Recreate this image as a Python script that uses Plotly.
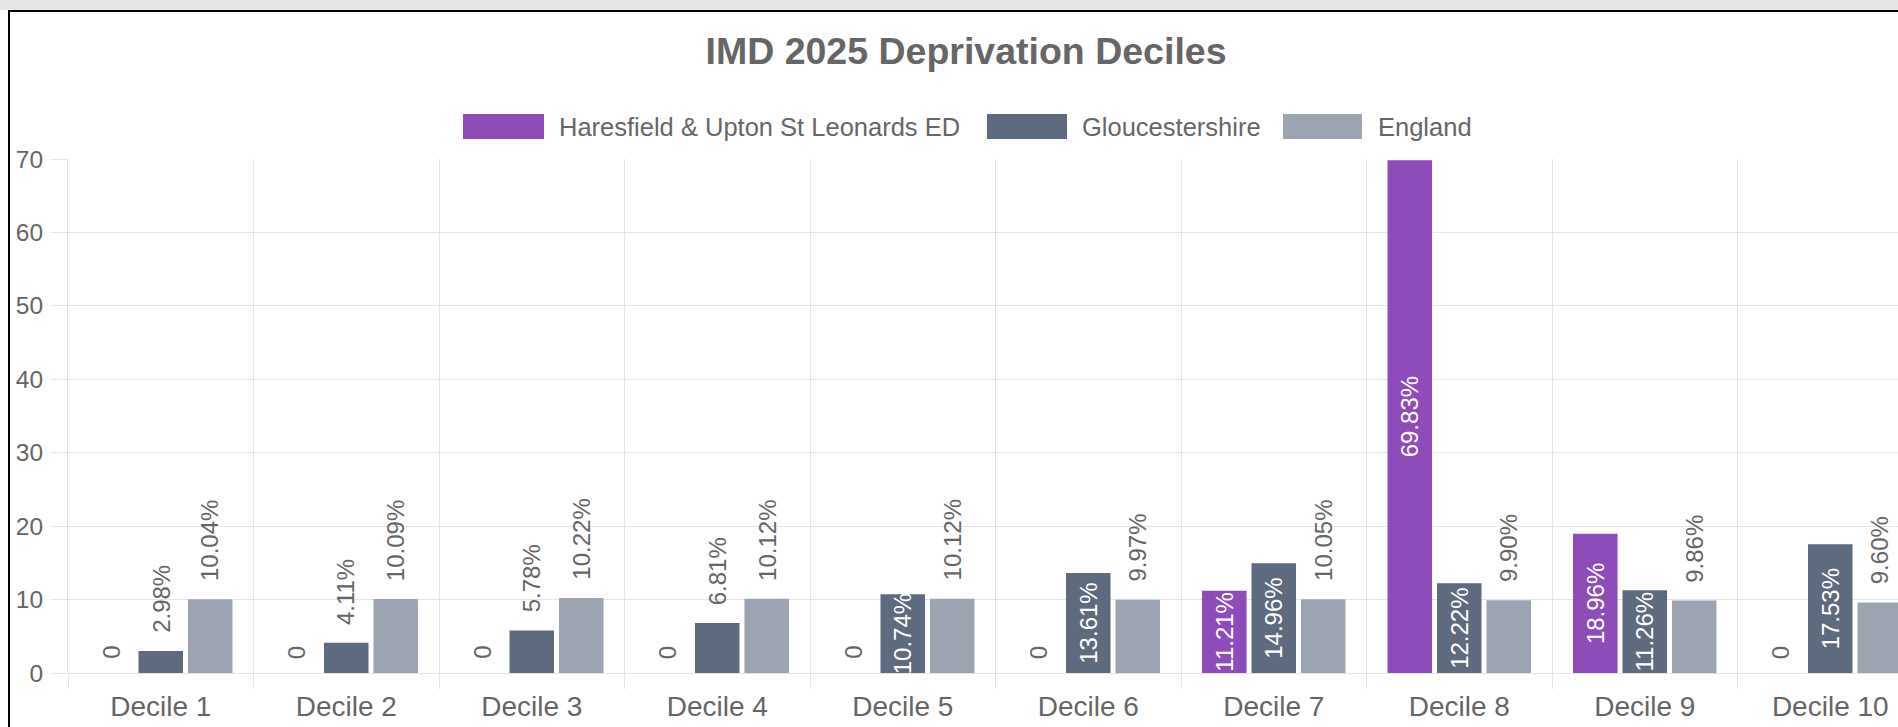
import plotly.graph_objects as go

# ---------------- data ----------------
categories = ["Decile 1", "Decile 2", "Decile 3", "Decile 4", "Decile 5",
              "Decile 6", "Decile 7", "Decile 8", "Decile 9", "Decile 10"]
series_names = ["Haresfield & Upton St Leonards ED", "Gloucestershire", "England"]
haresfield = [0, 0, 0, 0, 0, 0, 11.21, 69.83, 18.96, 0]
gloucestershire = [2.98, 4.11, 5.78, 6.81, 10.74, 13.61, 14.96, 12.22, 11.26, 17.53]
england = [10.04, 10.09, 10.22, 10.12, 10.12, 9.97, 10.05, 9.90, 9.86, 9.60]
y_ticks = [0, 10, 20, 30, 40, 50, 60, 70]
title_text = "IMD 2025 Deprivation Deciles"

series_values = [haresfield, gloucestershire, england]
colors = ["#8e4cbb", "#5e6a7d", "#9da4b1"]

# ---------------- geometry / style ----------------
W, H = 1898, 727
L, R, T, B = 68, 0, 159, 54
plot_w = W - L - R
plot_h = H - T - B
cat_px = 185.5
slot_px = cat_px * 0.8 / 3
FONT = "Arial, 'Liberation Sans', Helvetica, sans-serif"
GREY = "#666666"
GRID = "#e5e5e5"
INSIDE_MIN = 10.5


def px2x(px):
    return (px - L) / plot_w


def py2y(py):
    return (H - B - py) / plot_h


def fmt(v):
    return "0" if v == 0 else f"{v:.2f}%"


fig = go.Figure()
annotations = []
for j, (name, vals, col) in enumerate(zip(series_names, series_values, colors)):
    inside_text = [fmt(v) if v >= INSIDE_MIN else "" for v in vals]
    fig.add_trace(go.Bar(
        name=name, x=categories, y=vals, marker=dict(color=col, line=dict(width=0)),
        text=inside_text, textposition="inside", insidetextanchor="middle",
        textangle=-90, constraintext="none", cliponaxis=True,
        textfont=dict(color="white", size=24, family=FONT),
        showlegend=False,
    ))
    for c, v in zip(categories, vals):
        if v < INSIDE_MIN:
            annotations.append(dict(
                x=c, y=v, xref="x", yref="y", text=fmt(v), showarrow=False,
                textangle=-90, xanchor="center", yanchor="bottom",
                xshift=(j - 1) * slot_px, yshift=16 if v > 0 else 12,
                font=dict(size=24, color=GREY, family=FONT),
            ))

# custom legend (Chart.js style wide boxes)
legend_box_x = [(463, 544), (987, 1067), (1283, 1362)]
legend_text_x = [557, 1080, 1376]
shapes = []
for (x0, x1), tx, name, col in zip(legend_box_x, legend_text_x, series_names, colors):
    shapes.append(dict(type="rect", xref="paper", yref="paper",
                       x0=px2x(x0), x1=px2x(x1), y0=py2y(139), y1=py2y(114),
                       fillcolor=col, line=dict(width=0)))
    annotations.append(dict(x=px2x(tx), y=py2y(126.5), xref="paper", yref="paper",
                            text=name, showarrow=False, xanchor="left", yanchor="middle",
                            font=dict(size=25.5, color=GREY, family=FONT)))

# page frame: grey band at top and black border
shapes.append(dict(type="rect", xref="paper", yref="paper",
                   x0=px2x(0), x1=px2x(W), y0=py2y(10), y1=py2y(0),
                   fillcolor="#e6e6e6", line=dict(width=0), layer="above"))
shapes.append(dict(type="line", xref="paper", yref="paper",
                   x0=px2x(8), x1=px2x(W), y0=py2y(11), y1=py2y(11),
                   line=dict(color="black", width=2), layer="above"))
shapes.append(dict(type="line", xref="paper", yref="paper",
                   x0=px2x(9), x1=px2x(9), y0=py2y(10), y1=py2y(H),
                   line=dict(color="black", width=2), layer="above"))

fig.update_layout(
    width=W, height=H,
    margin=dict(l=L, r=R, t=T, b=B, autoexpand=False),
    paper_bgcolor="white", plot_bgcolor="white",
    barmode="group", bargap=0.2, bargroupgap=0.1,
    title=dict(text=f"<b>{title_text}</b>", x=px2x(966), xref="paper", xanchor="center",
               y=1 - 51 / H, yref="container", yanchor="middle",
               font=dict(size=37.5, color=GREY, family=FONT)),
    annotations=annotations, shapes=shapes,
)
fig.update_xaxes(
    type="category", range=[-0.5, -0.5 + plot_w / cat_px],
    tickson="boundaries", showgrid=True, gridcolor=GRID, gridwidth=1,
    ticks="outside", ticklen=15, tickcolor=GRID, tickwidth=1,
    tickfont=dict(size=28, color=GREY, family=FONT), ticklabelstandoff=14,
    showline=False, zeroline=False, automargin=False, fixedrange=True,
)
fig.update_yaxes(
    range=[0, 70], tickvals=y_ticks, showgrid=True, gridcolor=GRID, gridwidth=1,
    ticks="outside", ticklen=16, tickcolor=GRID, tickwidth=1,
    tickfont=dict(size=24.5, color=GREY, family=FONT), ticklabelstandoff=3,
    showline=True, linecolor=GRID, linewidth=1,
    zeroline=True, zerolinecolor=GRID, zerolinewidth=1, automargin=False, fixedrange=True,
)

fig.write_html(
    "out.html",
    config={"displayModeBar": False},
    post_script="document.body.style.margin='0';document.body.style.overflow='hidden';",
)
